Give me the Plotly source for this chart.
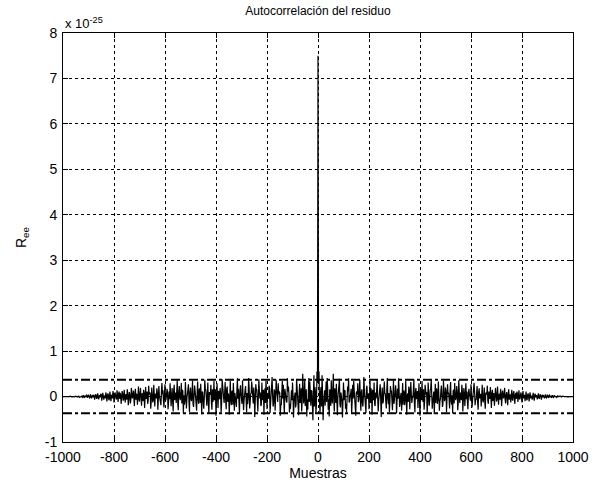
import plotly.graph_objects as go

# Autocorrelation values (units of 1e-25)
# lags 0,4,8,...,1000
vals_a = [
    7.5, 0.55, -0.38, 0.21, 0.47, -0.52, 0.12, -0.20, 0.33, 0.41, -0.29, -0.44, 0.08, 0.36, -0.15, 0.50, -0.33, -0.06, 0.28, -0.41, 0.19, 0.39, -0.24, 0.03, -0.46,
    0.31, 0.14, -0.27, -0.35, 0.22, 0.40, -0.10, 0.05, -0.38, 0.26, 0.34, -0.18, -0.42, 0.11, 0.29, -0.07, 0.37, -0.31, 0.16, -0.22, 0.43, -0.13, -0.36, 0.24, 0.02,
    -0.28, 0.35, 0.18, -0.40, 0.09, 0.31, -0.21, -0.04, 0.38, -0.33, 0.15, 0.27, -0.45, 0.20, -0.11, 0.33, 0.06, -0.26, 0.41, -0.17, -0.34, 0.23, 0.12, -0.30, 0.36,
    -0.09, 0.25, -0.37, 0.17, 0.40, -0.23, 0.01, -0.31, 0.30, 0.13, -0.19, 0.35, -0.40, 0.07, 0.22, -0.28, 0.32, -0.14, -0.02, 0.38, -0.35, 0.19, 0.10, -0.25, 0.29,
    -0.42, 0.16, 0.34, -0.12, -0.29, 0.26, 0.04, -0.36, 0.31, -0.20, 0.14, 0.37, -0.27, 0.08, -0.39, 0.28, 0.18, -0.16, 0.33, -0.31, -0.05, 0.24, -0.23, 0.35, -0.10,
    0.20, -0.34, 0.27, 0.09, -0.26, 0.32, -0.18, -0.37, 0.15, 0.30, -0.08, 0.23, -0.30, 0.36, -0.14, 0.03, 0.26, -0.33, 0.19, -0.21, 0.29, 0.11, -0.28, 0.17, -0.06,
    0.27, -0.24, 0.14, 0.30, -0.19, -0.07, 0.23, -0.29, 0.18, 0.05, -0.22, 0.26, -0.13, 0.20, -0.27, 0.09, 0.24, -0.16, -0.03, 0.21, -0.25, 0.15, 0.07, -0.20, 0.19,
    -0.11, 0.22, -0.18, 0.06, 0.17, -0.21, 0.13, -0.04, 0.19, -0.15, 0.10, -0.19, 0.16, 0.02, -0.13, 0.15, -0.09, 0.12, -0.16, 0.08, 0.11, -0.12, 0.14, -0.06, 0.09,
    -0.13, 0.12, 0.04, -0.10, 0.11, -0.08, 0.07, -0.11, 0.09, 0.01, -0.07, 0.08, -0.09, 0.06, 0.03, -0.06, 0.07, -0.05, 0.05, -0.07, 0.04, 0.02, -0.04, 0.05, -0.03,
    0.04, -0.03, 0.03, 0.01, -0.03, 0.03, -0.02, 0.02, 0.00, -0.02, 0.02, -0.01, 0.01, 0.01, -0.01, 0.01, -0.01, 0.00, 0.01, 0.00, -0.01, 0.00, 0.00, 0.00, 0.00,
    0.00,
]
lags_a = list(range(0, 1001, 4))

# lags 2,6,10,...,998
vals_b = [
    0.30, -0.15, 0.10, -0.22, 0.05, -0.18, 0.14, 0.08, -0.12, 0.20, -0.06, 0.16, -0.21, 0.03, 0.12, -0.09, 0.18, -0.14, 0.07, -0.03, 0.15, -0.17, 0.09, -0.11, 0.04,
    -0.08, 0.13, -0.16, 0.06, 0.11, -0.13, 0.02, 0.17, -0.10, -0.04, 0.14, -0.19, 0.08, 0.05, -0.12, 0.16, -0.07, 0.10, -0.15, 0.01, 0.12, -0.09, 0.18, -0.05, 0.07,
    0.11, -0.14, 0.04, 0.15, -0.08, -0.17, 0.09, 0.13, -0.02, -0.11, 0.16, -0.06, 0.03, -0.15, 0.10, 0.07, -0.13, 0.19, -0.04, 0.08, -0.12, 0.14, -0.09, 0.02, -0.16,
    0.06, 0.12, -0.10, -0.05, 0.15, -0.14, 0.08, 0.03, -0.18, 0.11, -0.07, 0.13, 0.01, -0.12, 0.17, -0.09, 0.05, -0.03, 0.14, -0.16, 0.09, -0.06, 0.12, 0.04, -0.11,
    0.13, -0.08, -0.02, 0.16, -0.13, 0.07, 0.10, -0.15, 0.05, -0.09, 0.18, -0.04, -0.12, 0.11, 0.02, -0.14, 0.15, -0.07, 0.08, -0.11, 0.13, 0.03, -0.16, 0.09, -0.05,
    0.10, -0.12, 0.06, -0.04, 0.14, -0.10, 0.03, 0.12, -0.15, 0.07, -0.02, 0.11, -0.13, 0.05, 0.09, -0.08, 0.13, -0.11, 0.01, 0.10, -0.06, -0.12, 0.08, 0.04, -0.09,
    0.08, -0.10, 0.05, 0.11, -0.07, 0.02, -0.12, 0.09, -0.04, 0.06, 0.10, -0.08, 0.03, -0.11, 0.07, 0.04, -0.09, 0.11, -0.05, 0.02, 0.08, -0.10, 0.06, -0.03, 0.07,
    -0.06, 0.08, 0.03, -0.07, 0.09, -0.05, 0.01, 0.07, -0.08, 0.04, -0.02, 0.06, -0.07, 0.05, 0.02, -0.06, 0.07, -0.03, 0.04, -0.05, 0.06, 0.01, -0.05, 0.04, -0.02,
    0.05, -0.04, 0.02, 0.04, -0.05, 0.03, -0.01, 0.04, -0.04, 0.02, 0.01, -0.03, 0.04, -0.02, 0.01, 0.02, -0.03, 0.03, -0.01, 0.02, -0.02, 0.01, 0.02, -0.02, 0.01,
    -0.01, 0.02, -0.01, 0.01, 0.00, -0.01, 0.01, 0.00, -0.01, 0.01, 0.00, 0.00, 0.01, -0.01, 0.00, 0.00, 0.00, 0.00, 0.00, 0.00, 0.00, 0.00, 0.00, 0.00, 0.00,
]
lags_b = list(range(2, 1000, 4))

# merge the non-negative lags in order
pairs = sorted(list(zip(lags_a, vals_a)) + list(zip(lags_b, vals_b)))
pos_lags = [p[0] for p in pairs]
pos_vals = [p[1] for p in pairs]

# Autocorrelation is symmetric: R(-k) = R(k)
lags = [-k for k in pos_lags[:0:-1]] + pos_lags
vals = pos_vals[:0:-1] + pos_vals

conf_x = [-1000, 1000]
conf_upper = [0.37, 0.37]
conf_lower = [-0.37, -0.37]

x_ticks = [-1000, -800, -600, -400, -200, 0, 200, 400, 600, 800, 1000]
x_labels = ["-1000", "-800", "-600", "-400", "-200", "0", "200", "400", "600", "800", "1000"]
y_ticks = [-1, 0, 1, 2, 3, 4, 5, 6, 7, 8]
y_labels = ["-1", "0", "1", "2", "3", "4", "5", "6", "7", "8"]

fig = go.Figure()
fig.add_trace(go.Scatter(x=lags, y=vals, mode="lines",
                         line=dict(color="black", width=1.2), showlegend=False))
fig.add_trace(go.Scatter(x=conf_x, y=conf_upper, mode="lines",
                         line=dict(color="black", width=2, dash="dashdot"), showlegend=False))
fig.add_trace(go.Scatter(x=conf_x, y=conf_lower, mode="lines",
                         line=dict(color="black", width=2, dash="dashdot"), showlegend=False))

fam = "Liberation Sans, Arial, sans-serif"
font = dict(family=fam, size=14, color="black")
axis_common = dict(showline=True, linecolor="black", linewidth=1, mirror="ticks",
                   ticks="inside", ticklen=5, tickcolor="black",
                   showgrid=True, gridcolor="black", griddash="dot", gridwidth=1,
                   zeroline=False, tickfont=font, automargin=False)

fig.update_layout(
    width=601, height=483,
    margin=dict(l=63, r=28, t=33, b=41),
    paper_bgcolor="white", plot_bgcolor="white",
    font=font,
    title=dict(text="Autocorrelación del residuo", x=0.529, xanchor="center",
               y=0.987, yanchor="top", font=dict(family=fam, size=12, color="black")),
    xaxis=dict(range=[-1000, 1000], tickvals=x_ticks, ticktext=x_labels, ticklabelstandoff=2,
               title=dict(text="Muestras", standoff=0, font=font), **axis_common),
    yaxis=dict(range=[-1, 8], tickvals=y_ticks, ticktext=y_labels, ticklabelstandoff=2,
               title=dict(text="R<sub>ee</sub>", standoff=14, font=font), **axis_common),
    annotations=[dict(text="x 10<sup>-25</sup>", xref="paper", yref="paper",
                      x=0, y=1, xanchor="left", yanchor="bottom", showarrow=False,
                      font=dict(family=fam, size=13, color="black"), yshift=0)],
)

fig.write_html("out.html")
